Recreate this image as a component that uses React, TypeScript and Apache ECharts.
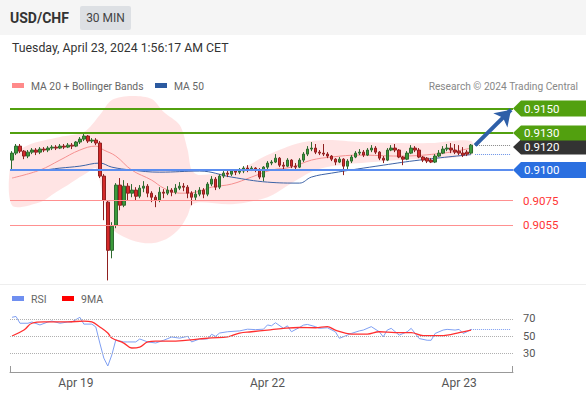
import React, { useEffect, useRef } from "react";
import * as echarts from "echarts";

const TITLE = "USD/CHF";
const TIMEFRAME = "30 MIN";
const DATE_TEXT = "Tuesday, April 23, 2024 1:56:17 AM CET";
const SOURCE_TEXT = "Research © 2024 Trading Central";

// 30-min slots: 116 candles (Apr 18 16:00 .. Apr 23 01:30) + 10 empty slots on the right
const SLOT_COUNT = 126;
const tickIndex = [16, 64, 112];
const tickLabels = ["Apr 19", "Apr 22", "Apr 23"];

// [open, close, low, high]
const ohlc: number[][] = [
  [0.9108, 0.91137, 0.90999, 0.91153], [0.91137, 0.91194, 0.91121, 0.91211], [0.91194, 0.91153, 0.91137, 0.91211],
  [0.91153, 0.91113, 0.91088, 0.91162], [0.91113, 0.91145, 0.91096, 0.91162], [0.91145, 0.91162, 0.91129, 0.91178],
  [0.91162, 0.91145, 0.91121, 0.91178], [0.91145, 0.9117, 0.91129, 0.91186], [0.9117, 0.91162, 0.91145, 0.91186],
  [0.91162, 0.91178, 0.91145, 0.91194], [0.91178, 0.91186, 0.91162, 0.91202], [0.91186, 0.91178, 0.91162, 0.91202],
  [0.91178, 0.91194, 0.9117, 0.91211], [0.91194, 0.91186, 0.9117, 0.91211], [0.91186, 0.91202, 0.91178, 0.91219],
  [0.91202, 0.91194, 0.9117, 0.91219], [0.91194, 0.91227, 0.91186, 0.91235], [0.91227, 0.91251, 0.91211, 0.91268],
  [0.91251, 0.91276, 0.91235, 0.913], [0.91276, 0.91235, 0.91219, 0.91284], [0.91235, 0.91243, 0.91219, 0.91259],
  [0.91243, 0.91219, 0.91202, 0.91259], [0.91219, 0.9095, 0.90934, 0.91235], [0.9095, 0.90754, 0.90591, 0.90966],
  [0.90738, 0.90346, 0.90101, 0.90754], [0.90346, 0.90542, 0.90281, 0.90575], [0.9055, 0.90877, 0.90526, 0.90893],
  [0.90877, 0.90713, 0.90672, 0.90934], [0.90713, 0.90868, 0.90697, 0.90917], [0.90868, 0.90811, 0.90754, 0.90893],
  [0.90811, 0.90836, 0.90778, 0.90885], [0.90836, 0.90786, 0.90754, 0.9086], [0.90786, 0.90852, 0.9077, 0.90877],
  [0.90852, 0.90868, 0.90819, 0.90909], [0.90868, 0.90811, 0.90778, 0.90885], [0.90811, 0.90778, 0.90738, 0.90827],
  [0.90778, 0.90754, 0.90697, 0.90795], [0.90754, 0.90819, 0.90738, 0.9086], [0.90819, 0.90811, 0.9077, 0.90844],
  [0.90811, 0.90836, 0.90795, 0.90868], [0.90836, 0.90819, 0.90786, 0.90852], [0.90819, 0.90852, 0.90803, 0.90885],
  [0.90852, 0.90868, 0.90836, 0.90901], [0.90868, 0.9086, 0.90827, 0.90893], [0.9086, 0.90811, 0.9077, 0.90877],
  [0.90811, 0.90778, 0.90713, 0.90827], [0.90778, 0.90803, 0.90754, 0.90836], [0.90803, 0.90836, 0.90786, 0.9086],
  [0.90836, 0.90803, 0.9077, 0.90852], [0.90803, 0.90885, 0.90786, 0.90901], [0.90885, 0.90925, 0.90868, 0.9095],
  [0.90925, 0.9086, 0.90836, 0.90942], [0.9086, 0.9095, 0.90844, 0.90966], [0.9095, 0.90974, 0.90934, 0.90991],
  [0.90974, 0.90966, 0.90942, 0.90991], [0.90966, 0.90991, 0.9095, 0.91007], [0.90991, 0.90982, 0.90958, 0.91007],
  [0.90982, 0.90991, 0.90966, 0.91015], [0.90991, 0.91015, 0.90974, 0.91031], [0.91015, 0.90999, 0.90982, 0.91039],
  [0.90999, 0.91015, 0.90991, 0.91031], [0.91015, 0.90999, 0.90982, 0.91023], [0.90999, 0.90942, 0.90925, 0.91015],
  [0.90942, 0.91023, 0.90909, 0.91031], [0.91023, 0.91056, 0.91007, 0.91072], [0.91056, 0.91064, 0.91039, 0.9108],
  [0.91064, 0.91096, 0.91056, 0.91129], [0.91096, 0.91039, 0.91023, 0.91105], [0.91039, 0.91031, 0.91007, 0.91064],
  [0.91031, 0.9108, 0.91023, 0.91096], [0.9108, 0.91031, 0.91015, 0.91088], [0.91031, 0.91023, 0.91007, 0.91056],
  [0.91023, 0.9108, 0.91015, 0.91096], [0.9108, 0.91129, 0.91064, 0.91145], [0.91129, 0.9117, 0.91113, 0.91194],
  [0.9117, 0.91178, 0.91153, 0.91227], [0.91178, 0.91145, 0.91129, 0.91211], [0.91145, 0.91137, 0.91121, 0.91162],
  [0.91137, 0.91129, 0.91113, 0.91211], [0.91129, 0.91113, 0.91096, 0.91145], [0.91113, 0.91088, 0.91072, 0.91121],
  [0.91088, 0.91064, 0.91039, 0.91096], [0.91064, 0.91088, 0.91056, 0.91105], [0.91088, 0.91031, 0.90958, 0.91096],
  [0.91031, 0.91072, 0.91007, 0.91088], [0.91072, 0.91105, 0.91056, 0.91121], [0.91105, 0.91137, 0.91096, 0.91153],
  [0.91137, 0.91145, 0.91121, 0.9117], [0.91145, 0.91121, 0.91105, 0.91162], [0.91121, 0.91162, 0.91113, 0.91178],
  [0.91162, 0.91178, 0.91145, 0.91202], [0.91178, 0.91145, 0.91129, 0.91194], [0.91145, 0.91096, 0.9108, 0.91153],
  [0.91096, 0.9108, 0.91056, 0.91113], [0.9108, 0.91162, 0.91072, 0.91178], [0.91162, 0.91178, 0.91153, 0.91202],
  [0.91178, 0.91162, 0.91145, 0.91211], [0.91162, 0.91105, 0.91096, 0.9117], [0.91105, 0.91088, 0.91039, 0.91113],
  [0.91088, 0.91137, 0.9108, 0.91153], [0.91137, 0.91178, 0.91129, 0.91202], [0.91178, 0.91162, 0.91145, 0.91194],
  [0.91162, 0.91105, 0.91096, 0.91178], [0.91105, 0.9108, 0.91064, 0.91113], [0.91096, 0.91072, 0.91056, 0.91105],
  [0.9108, 0.91064, 0.91056, 0.91096], [0.91064, 0.91113, 0.91056, 0.91129], [0.91113, 0.91137, 0.91105, 0.91162],
  [0.91137, 0.9117, 0.91129, 0.91194], [0.9117, 0.91178, 0.91153, 0.91211], [0.91178, 0.91162, 0.91137, 0.91219],
  [0.91162, 0.91145, 0.91129, 0.91211], [0.91153, 0.91137, 0.91121, 0.91202], [0.91137, 0.91121, 0.91105, 0.91186],
  [0.91145, 0.91129, 0.91113, 0.91162], [0.91137, 0.91202, 0.91129, 0.91211],
];

// [slot index, value] readings
const ma20: number[][] = [
  [0, 0.90934], [7, 0.90999], [12, 0.9108], [17, 0.91162], [21, 0.91194], [23, 0.91162], [26, 0.91113],
  [30, 0.90999], [35, 0.90917], [38, 0.90852], [42, 0.90811], [46, 0.90819], [50, 0.9086], [55, 0.90885],
  [60, 0.90942], [65, 0.90999], [70, 0.91023], [75, 0.9108], [80, 0.91105], [87, 0.91121], [97, 0.91113],
  [108, 0.91137], [115, 0.91178],
];
const ma50: number[][] = [
  [0, 0.90999], [7, 0.90999], [12, 0.91015], [17, 0.91031], [22, 0.91056], [25, 0.91023], [30, 0.90999],
  [37, 0.90982], [47, 0.90991], [55, 0.90942], [64, 0.90901], [72, 0.90893], [75, 0.90942], [80, 0.90974],
  [93, 0.91039], [102, 0.9108], [115, 0.91125],
];
const bbUpper: number[][] = [
  [0, 0.91096], [4, 0.91202], [12, 0.91268], [18, 0.91308], [22, 0.91447], [25, 0.91569], [30, 0.91602],
  [35, 0.91578], [38, 0.91472], [42, 0.91365], [44, 0.91162], [45, 0.90999], [47, 0.90958], [58, 0.91023],
  [64, 0.91121], [72, 0.91219], [79, 0.91243], [87, 0.91227], [95, 0.91219], [105, 0.91219], [115, 0.91235],
];
const bbLower: number[][] = [
  [0, 0.90713], [7, 0.90738], [11, 0.90819], [14, 0.90877], [17, 0.90942], [19, 0.90982], [21, 0.91015],
  [23, 0.90754], [25, 0.90525], [30, 0.90428], [35, 0.90403], [39, 0.90444], [42, 0.90525], [44, 0.90632],
  [45, 0.90713], [47, 0.90738], [55, 0.90721], [64, 0.90778], [70, 0.90892], [76, 0.90999], [82, 0.91039],
  [97, 0.9108], [115, 0.91121],
];

const rsi: number[][] = [
  [0, 72], [1, 73], [2, 65], [4, 65], [5, 66.5], [7, 63], [9, 66.5], [10, 67.6], [12, 65], [14, 66.5],
  [15, 66.5], [17, 72], [18, 64], [20, 64], [21, 60.6], [22, 41.7], [23, 24], [24, 14.7], [25, 27.6],
  [26, 45.3], [28, 43], [29, 43], [31, 43], [32, 46.5], [34, 43], [36, 41.8], [38, 45], [40, 48.8],
  [42, 47.5], [44, 49.6], [45, 43], [47, 46.5], [49, 46.5], [50, 52], [51, 49.6], [52, 53.5], [54, 55],
  [57, 56], [59, 58], [61, 57.5], [63, 58], [64, 63], [65, 62], [66, 65.6], [68, 59], [69, 62], [70, 55],
  [72, 60], [73, 62.8], [74, 63.6], [76, 61], [77, 59], [79, 59.7], [81, 55], [82, 47.3], [84, 51],
  [85, 53], [87, 56], [88, 57], [90, 61], [92, 55], [93, 49], [94, 57], [95, 59], [97, 51], [99, 55],
  [100, 59], [102, 47], [104, 45], [105, 45], [106, 53], [108, 57], [109, 57.8], [111, 57], [112, 57.8],
  [113, 53], [114, 55], [115, 57.8],
];
const rsiMa: number[][] = [
  [0, 50], [3, 57], [5, 65], [8, 66.5], [14, 66.5], [18, 67.6], [20, 66.5], [22, 60.6], [24, 53.5],
  [25, 47.6], [28, 41.7], [30, 35.9], [32, 37], [34, 43], [36, 44], [41, 44], [47, 46.5], [50, 47.8],
  [54, 49], [57, 53.5], [60, 55], [64, 57], [68, 59], [72, 60], [76, 59.7], [79, 61], [81, 57], [85, 52.3],
  [89, 52.3], [92, 55], [96, 54], [100, 54], [103, 50.4], [107, 50.4], [109, 51], [112, 54], [115, 57],
];
const rsiLevels = [70, 50, 30];

const resistanceLevels = [0.915, 0.913];
const pivotLevel = 0.91;
const supportLevels = [0.9075, 0.9055];
const lastPrice = 0.912;
const targetPrice = 0.9149;
const lastIndex = 115;
const projectionEnd = 125;

const FONT = "Roboto, 'Liberation Sans', sans-serif";
const GREEN = "#52a00f";
const BLUE_TAG = "#2a6fe0";

export default function App() {
  const ref = useRef<HTMLDivElement>(null);

  useEffect(() => {
    document.body.style.margin = "0";
    const chart = echarts.init(ref.current!, undefined, { renderer: "svg", width: 586, height: 397 });
    const categories = Array.from({ length: SLOT_COUNT }, (_, i) => String(i));
    const lastClose = ohlc[ohlc.length - 1][1];
    const lastMa50 = ma50[ma50.length - 1][1];
    const lastRsi = rsi[rsi.length - 1][1];

    const option: any = {
      animation: false,
      textStyle: { fontFamily: FONT },
      grid: [
        { left: 10, top: 95, width: 503, height: 188 },
        { left: 10, top: 300, width: 503, height: 72 },
      ],
      xAxis: [
        { type: "category", gridIndex: 0, data: categories, show: false },
        {
          type: "category",
          gridIndex: 1,
          data: categories,
          axisLine: { show: true, lineStyle: { color: "#999", width: 1 } },
          axisTick: { show: false },
          splitLine: { show: false },
          axisLabel: {
            interval: (i: number) => tickIndex.includes(i),
            formatter: (_v: string, i: number) => tickLabels[tickIndex.indexOf(i)] ?? "",
            color: "#555",
            fontSize: 12,
            margin: 5,
          },
        },
      ],
      yAxis: [
        { type: "value", gridIndex: 0, min: 0.9008, max: 0.9161, show: false, splitLine: { show: false } },
        { type: "value", gridIndex: 1, min: 7.65, max: 92.35, show: false, splitLine: { show: false } },
      ],
      series: [
        {
          type: "custom",
          name: "Bollinger Bands",
          xAxisIndex: 0,
          yAxisIndex: 0,
          data: [0],
          silent: true,
          z: 1,
          renderItem: (_p: any, api: any) => {
            const pts = [
              ...bbUpper.map(([i, v]) => api.coord([i, v])),
              ...bbLower.slice().reverse().map(([i, v]) => api.coord([i, v])),
            ];
            return {
              type: "polygon",
              shape: { points: pts, smooth: 0.3 },
              style: { fill: "rgba(255,110,110,0.19)" },
            };
          },
        },
        {
          type: "line",
          name: "MA 20",
          xAxisIndex: 0,
          yAxisIndex: 0,
          data: ma20,
          smooth: 0.4,
          showSymbol: false,
          z: 2,
          lineStyle: { color: "#f59090", width: 1 },
        },
        {
          type: "line",
          name: "MA 50",
          xAxisIndex: 0,
          yAxisIndex: 0,
          data: ma50,
          smooth: 0.4,
          showSymbol: false,
          z: 2,
          lineStyle: { color: "#3d63a6", width: 1 },
          markLine: {
            silent: true,
            precision: 5,
            symbol: ["none", "none"],
            label: { show: false },
            data: [
              ...resistanceLevels.map((v) => ({ yAxis: v, lineStyle: { color: GREEN, width: 2, type: "solid" } })),
              { yAxis: pivotLevel, lineStyle: { color: "#5b8def", width: 2, type: "solid" } },
              ...supportLevels.map((v) => ({ yAxis: v, lineStyle: { color: "#ff9090", width: 1, type: "solid" } })),
              [
                { coord: [lastIndex + 1, lastMa50], lineStyle: { color: "#6b93e8", width: 1, type: "dotted" } },
                { coord: [projectionEnd, lastMa50] },
              ],
            ],
          },
        },
        {
          type: "candlestick",
          name: TITLE,
          xAxisIndex: 0,
          yAxisIndex: 0,
          data: ohlc,
          barWidth: 3,
          z: 3,
          itemStyle: {
            color: "#3a9a3a",
            color0: "#d42a2a",
            borderColor: "#2f6a2f",
            borderColor0: "#8f2020",
            borderWidth: 1,
          },
          markLine: {
            silent: true,
            precision: 5,
            symbol: ["none", "none"],
            label: { show: false },
            data: [
              [
                { coord: [lastIndex + 1, lastClose], lineStyle: { color: "#888", width: 1, type: "dotted" } },
                { coord: [projectionEnd, lastClose] },
              ],
              [
                { coord: [lastIndex + 1, lastPrice], symbol: "none", lineStyle: { color: "#2e5fa8", width: 4, type: "solid" } },
                { coord: [projectionEnd, targetPrice], symbol: "arrow", symbolSize: 15 },
              ],
            ],
          },
        },
        {
          type: "line",
          name: "RSI",
          xAxisIndex: 1,
          yAxisIndex: 1,
          data: rsi,
          showSymbol: false,
          z: 3,
          lineStyle: { color: "#7f9ff2", width: 1 },
          markLine: {
            silent: true,
            precision: 1,
            symbol: ["none", "none"],
            lineStyle: { color: "#b0b0b0", width: 1, type: "dotted" },
            label: {
              show: true,
              position: "end",
              distance: 10,
              color: "#555",
              fontSize: 11,
              formatter: (p: any) => String(p.value),
            },
            data: [
              ...rsiLevels.map((v) => ({ yAxis: v })),
              [
                { coord: [lastIndex, lastRsi], label: { show: false }, lineStyle: { color: "#7f9ff2", type: "dotted" } },
                { coord: [projectionEnd, lastRsi] },
              ],
            ],
          },
        },
        {
          type: "line",
          name: "9MA",
          xAxisIndex: 1,
          yAxisIndex: 1,
          data: rsiMa,
          smooth: 0.4,
          showSymbol: false,
          z: 4,
          lineStyle: { color: "#ff3030", width: 1.3 },
        },
      ],
    };
    chart.setOption(option);

    const yPix = (v: number) => chart.convertToPixel({ yAxisIndex: 0 }, v) as number;
    const tagX = 513;
    const tag = (v: number, label: string, fill: string, dy = 0, h = 16) => {
      const y = yPix(v) + dy;
      return {
        type: "group",
        children: [
          {
            type: "polygon",
            shape: {
              points: [
                [tagX, y],
                [tagX + 8, y - h / 2],
                [586, y - h / 2],
                [586, y + h / 2],
                [tagX + 8, y + h / 2],
              ],
            },
            style: { fill },
          },
          {
            type: "text",
            x: tagX + 11,
            y,
            style: { text: label, fill: "#fff", fontSize: 11.5, fontFamily: FONT, align: "left", verticalAlign: "middle" },
          },
        ],
      };
    };
    const plainLabel = (v: number, label: string) => ({
      type: "text",
      x: tagX + 10,
      y: yPix(v),
      style: { text: label, fill: "#ff3535", fontSize: 11.5, fontFamily: FONT, align: "left", verticalAlign: "middle" },
    });

    const graphic: any[] = [
      { type: "rect", shape: { x: 0, y: 0, width: 586, height: 35 }, style: { fill: "#f5f5f5" }, z: -10 },
      {
        type: "text",
        x: 10,
        y: 18,
        style: { text: TITLE, fill: "#333", fontSize: 14, fontWeight: "bold", fontFamily: FONT, verticalAlign: "middle" },
      },
      { type: "rect", shape: { x: 80, y: 6, width: 51, height: 24, r: 2 }, style: { fill: "#dde0e4" } },
      {
        type: "text",
        x: 105.5,
        y: 18,
        style: { text: TIMEFRAME, fill: "#444", fontSize: 12, fontFamily: FONT, align: "center", verticalAlign: "middle" },
      },
      {
        type: "text",
        x: 12,
        y: 48,
        style: { text: DATE_TEXT, fill: "#333", fontSize: 12.3, fontFamily: FONT, verticalAlign: "middle" },
      },
      { type: "rect", shape: { x: 12, y: 83, width: 12, height: 5 }, style: { fill: "#ff8a8a" } },
      {
        type: "text",
        x: 31,
        y: 86,
        style: { text: "MA 20 + Bollinger Bands", fill: "#666", fontSize: 10.3, fontFamily: FONT, verticalAlign: "middle" },
      },
      { type: "rect", shape: { x: 155, y: 83, width: 12, height: 5 }, style: { fill: "#2c5aa0" } },
      {
        type: "text",
        x: 174,
        y: 86,
        style: { text: "MA 50", fill: "#666", fontSize: 10.3, fontFamily: FONT, verticalAlign: "middle" },
      },
      {
        type: "text",
        x: 578,
        y: 86,
        style: { text: SOURCE_TEXT, fill: "#888", fontSize: 10.2, fontFamily: FONT, align: "right", verticalAlign: "middle" },
      },
      { type: "line", shape: { x1: 0, y1: 284.5, x2: 586, y2: 284.5 }, style: { stroke: "#eeeeee", lineWidth: 1 } },
      { type: "rect", shape: { x: 12, y: 296, width: 12, height: 5 }, style: { fill: "#6f8ff0" } },
      {
        type: "text",
        x: 31,
        y: 299,
        style: { text: "RSI", fill: "#666", fontSize: 10.5, fontFamily: FONT, verticalAlign: "middle" },
      },
      { type: "rect", shape: { x: 62, y: 296, width: 12, height: 5 }, style: { fill: "#ff0000" } },
      {
        type: "text",
        x: 81,
        y: 299,
        style: { text: "9MA", fill: "#666", fontSize: 10.5, fontFamily: FONT, verticalAlign: "middle" },
      },
      { type: "line", shape: { x1: 10.5, y1: 366, x2: 10.5, y2: 372 }, style: { stroke: "#999", lineWidth: 1 } },
      { type: "line", shape: { x1: 512.5, y1: 366, x2: 512.5, y2: 372 }, style: { stroke: "#999", lineWidth: 1 } },
      tag(lastPrice, "0.9120", "#333333", 1.5, 15),
      tag(resistanceLevels[0], "0.9150", GREEN),
      tag(resistanceLevels[1], "0.9130", GREEN, 0, 15),
      tag(pivotLevel, "0.9100", BLUE_TAG),
      plainLabel(supportLevels[0], "0.9075"),
      plainLabel(supportLevels[1], "0.9055"),
    ];
    chart.setOption({ graphic });

    return () => chart.dispose();
  }, []);

  return <div ref={ref} style={{ width: 586, height: 397, position: "absolute", left: 0, top: 0 }} />;
}
